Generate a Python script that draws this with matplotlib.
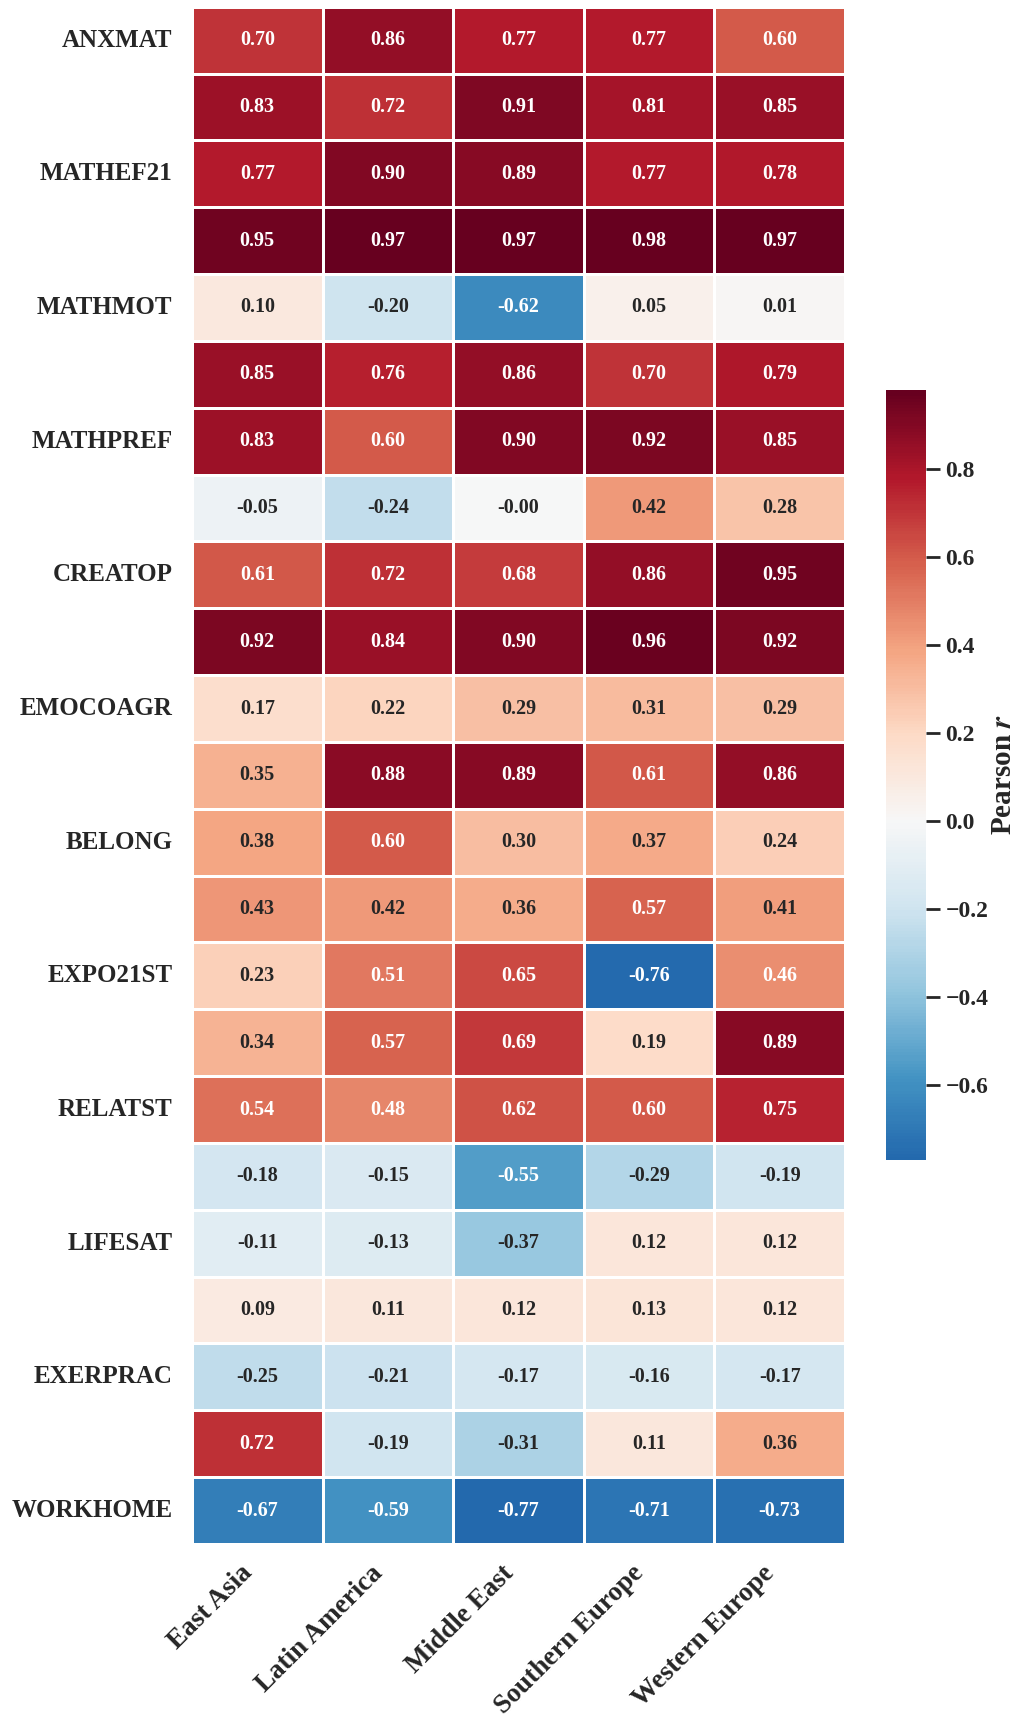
import matplotlib
matplotlib.use("Agg")
import matplotlib.pyplot as plt
import numpy as np
import pandas as pd
import seaborn as sns

# data
regions = ["East Asia", "Latin America", "Middle East", "Southern Europe", "Western Europe"]
variables = ["ANXMAT", "MATHEFF", "MATHEF21", "MATHPERS", "MATHMOT", "MATHEASE",
             "MATHPREF", "FAMCON", "CREATOP", "CREATAS", "EMOCOAGR", "PERSEVAGR",
             "BELONG", "FEELSAFE", "EXPO21ST", "TEACHSUP", "RELATST", "BULLIED",
             "LIFESAT", "STUDYHMW", "EXERPRAC", "WORKPAY", "WORKHOME"]
east_asia = [0.70, 0.83, 0.77, 0.95, 0.10, 0.85, 0.83, -0.05, 0.61, 0.92, 0.17, 0.35,
             0.38, 0.43, 0.23, 0.34, 0.54, -0.18, -0.11, 0.09, -0.25, 0.72, -0.67]
latin_america = [0.86, 0.72, 0.90, 0.97, -0.20, 0.76, 0.60, -0.24, 0.72, 0.84, 0.22, 0.88,
                 0.60, 0.42, 0.51, 0.57, 0.48, -0.15, -0.13, 0.11, -0.21, -0.19, -0.59]
middle_east = [0.77, 0.91, 0.89, 0.97, -0.62, 0.86, 0.90, -0.004, 0.68, 0.90, 0.29, 0.89,
               0.30, 0.36, 0.65, 0.69, 0.62, -0.55, -0.37, 0.12, -0.17, -0.31, -0.77]
southern_europe = [0.77, 0.81, 0.77, 0.98, 0.05, 0.70, 0.92, 0.42, 0.86, 0.96, 0.31, 0.61,
                   0.37, 0.57, -0.76, 0.19, 0.60, -0.29, 0.12, 0.13, -0.16, 0.11, -0.71]
western_europe = [0.60, 0.85, 0.78, 0.97, 0.01, 0.79, 0.85, 0.28, 0.95, 0.92, 0.29, 0.86,
                  0.24, 0.41, 0.46, 0.89, 0.75, -0.19, 0.12, 0.12, -0.17, 0.36, -0.73]

df = pd.DataFrame({"East Asia": east_asia, "Latin America": latin_america,
                   "Middle East": middle_east, "Southern Europe": southern_europe,
                   "Western Europe": western_europe}, index=variables)

sns.set_theme(style="white")
plt.rcParams["font.family"] = ["Liberation Serif", "DejaVu Serif"]
plt.rcParams["font.weight"] = "bold"
plt.rcParams["mathtext.fontset"] = "stix"
text_col = "#262626"

fig = plt.figure(figsize=(10.19, 17.19), dpi=100)
ax = fig.add_axes([0.1884, 0.1018, 0.6408, 0.8943])
cax = fig.add_axes([0.8695, 0.3252, 0.0393, 0.4479])

sns.heatmap(df, ax=ax, cbar_ax=cax, cmap="RdBu_r", center=0,
            annot=True, fmt=".2f", linewidths=1.0, linecolor="white",
            yticklabels=2,
            annot_kws={"fontsize": 14.5, "fontweight": "bold"})

ax.tick_params(axis="both", length=0, colors=text_col)
ax.tick_params(axis="y", pad=14)
ax.tick_params(axis="x", pad=12)
for lab in ax.get_yticklabels():
    lab.set_fontsize(18)
    lab.set_fontweight("bold")
    lab.set_rotation(0)
    lab.set_color(text_col)
for lab in ax.get_xticklabels():
    lab.set_fontsize(19.5)
    lab.set_fontweight("bold")
    lab.set_rotation(45)
    lab.set_ha("right")
    lab.set_color(text_col)
ax.set_xlabel("")
ax.set_ylabel("")

cb = ax.collections[0].colorbar
cb.set_ticks([-0.6, -0.4, -0.2, 0.0, 0.2, 0.4, 0.6, 0.8])
cb.outline.set_visible(False)
cax.tick_params(axis="y", right=True, length=10, width=2, colors=text_col,
                labelsize=17, pad=4)
for lab in cax.get_yticklabels():
    lab.set_fontweight("bold")
cb.set_label("Pearson $\\mathbfit{r}$", fontsize=21, fontweight="bold",
             color=text_col, labelpad=1)

fig.savefig("out.png", dpi=100)
